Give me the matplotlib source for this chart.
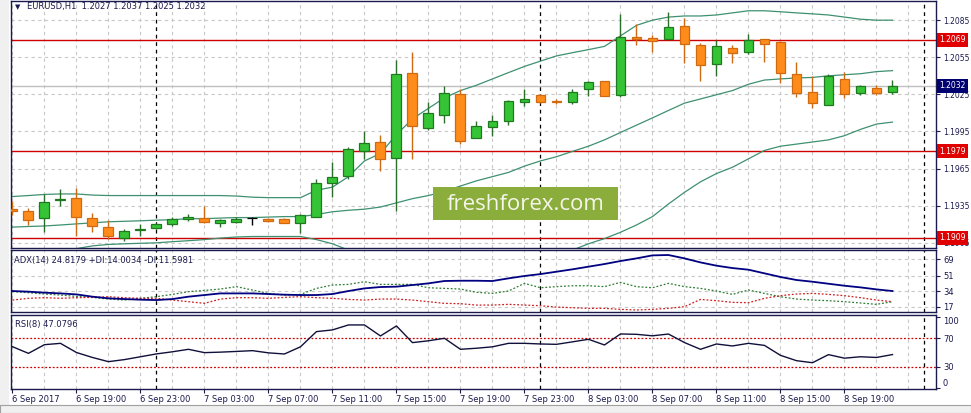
import numpy as np
import matplotlib
matplotlib.use("Agg")
import matplotlib.pyplot as plt
from matplotlib.patches import Rectangle
from matplotlib.transforms import blended_transform_factory

W, H = 971, 413

header = "EURUSD,H1  1.2027 1.2037 1.2025 1.2032"
adx_title = "ADX(14) 24.8179 +DI:14.0034 -DI:11.5981"
rsi_title = "RSI(8) 47.0796"

# hourly candles, 6 Sep 15:00 .. 8 Sep 22:00
opens = [1.19322, 1.19305, 1.19254, 1.19398, 1.19415, 1.19254, 1.19177, 1.19092, 1.19152, 1.19169,
         1.19203, 1.19245, 1.19254, 1.19211, 1.19220, 1.19254, 1.19245, 1.19245, 1.19211, 1.19262,
         1.19534, 1.19593, 1.19789, 1.19865, 1.19738, 1.20426, 1.19975, 1.20086, 1.20256, 1.19899,
         1.19984, 1.20035, 1.20188, 1.20247, 1.20196, 1.20188, 1.20290, 1.20358, 1.20247, 1.20714,
         1.20706, 1.20697, 1.20799, 1.20646, 1.20493, 1.20629, 1.20595, 1.20697, 1.20672, 1.20417,
         1.20273, 1.20162, 1.20375, 1.20264, 1.20298, 1.20270]
highs = [1.19390, 1.19330, 1.19441, 1.19483, 1.19492, 1.19288, 1.19237, 1.19160, 1.19203, 1.19211,
         1.19262, 1.19279, 1.19347, 1.19245, 1.19262, 1.19262, 1.19254, 1.19254, 1.19279, 1.19568,
         1.19704, 1.19823, 1.19950, 1.19925, 1.20527, 1.20595, 1.20188, 1.20315, 1.20290, 1.20035,
         1.20086, 1.20205, 1.20290, 1.20256, 1.20213, 1.20290, 1.20358, 1.20358, 1.20901, 1.20816,
         1.20731, 1.20918, 1.20867, 1.20663, 1.20689, 1.20646, 1.20740, 1.20697, 1.20680, 1.20510,
         1.20400, 1.20417, 1.20434, 1.20324, 1.20324, 1.20370]
lows = [1.19271, 1.19194, 1.19135, 1.19347, 1.19101, 1.19135, 1.19084, 1.19067, 1.19109, 1.19160,
        1.19186, 1.19228, 1.19211, 1.19177, 1.19211, 1.19194, 1.19220, 1.19211, 1.19126, 1.19262,
        1.19424, 1.19568, 1.19729, 1.19627, 1.19305, 1.19729, 1.19958, 1.20018, 1.19848, 1.19899,
        1.19916, 1.20001, 1.20154, 1.20179, 1.20171, 1.20171, 1.20239, 1.20239, 1.20230, 1.20646,
        1.20595, 1.20697, 1.20502, 1.20358, 1.20400, 1.20502, 1.20578, 1.20510, 1.20341, 1.20230,
        1.20137, 1.20162, 1.20222, 1.20247, 1.20247, 1.20250]
closes = [1.19305, 1.19237, 1.19381, 1.19407, 1.19262, 1.19186, 1.19101, 1.19143, 1.19160, 1.19203,
          1.19245, 1.19262, 1.19220, 1.19237, 1.19245, 1.19254, 1.19228, 1.19211, 1.19271, 1.19534,
          1.19585, 1.19806, 1.19857, 1.19729, 1.20417, 1.19992, 1.20103, 1.20264, 1.19874, 1.19992,
          1.20035, 1.20196, 1.20213, 1.20188, 1.20188, 1.20273, 1.20349, 1.20239, 1.20714, 1.20697,
          1.20680, 1.20791, 1.20655, 1.20485, 1.20638, 1.20587, 1.20689, 1.20655, 1.20426, 1.20264,
          1.20179, 1.20400, 1.20256, 1.20315, 1.20264, 1.20320]

bb_upper = [1.19424, 1.19432, 1.19441, 1.19445, 1.19445, 1.19436, 1.19432, 1.19432, 1.19432, 1.19432,
            1.19432, 1.19432, 1.19432, 1.19432, 1.19428, 1.19419, 1.19415, 1.19415, 1.19415, 1.19475,
            1.19500, 1.19585, 1.19712, 1.19772, 1.19925, 1.20052, 1.20137, 1.20222, 1.20281, 1.20324,
            1.20375, 1.20426, 1.20476, 1.20519, 1.20561, 1.20587, 1.20612, 1.20638, 1.20723, 1.20808,
            1.20850, 1.20875, 1.20884, 1.20884, 1.20892, 1.20909, 1.20926, 1.20926, 1.20918, 1.20909,
            1.20901, 1.20892, 1.20875, 1.20858, 1.20850, 1.20850]
bb_mid = [1.19177, 1.19182, 1.19186, 1.19194, 1.19203, 1.19211, 1.19220, 1.19224, 1.19228, 1.19233,
          1.19237, 1.19245, 1.19245, 1.19250, 1.19254, 1.19254, 1.19258, 1.19262, 1.19262, 1.19279,
          1.19301, 1.19313, 1.19322, 1.19339, 1.19373, 1.19407, 1.19432, 1.19466, 1.19509, 1.19551,
          1.19585, 1.19619, 1.19670, 1.19712, 1.19746, 1.19789, 1.19831, 1.19882, 1.19942, 1.20001,
          1.20060, 1.20120, 1.20179, 1.20213, 1.20247, 1.20281, 1.20332, 1.20366, 1.20375, 1.20383,
          1.20387, 1.20400, 1.20409, 1.20417, 1.20434, 1.20442]
bb_lower = [1.18940, 1.18948, 1.18965, 1.18982, 1.19003, 1.19025, 1.19037, 1.19042, 1.19046, 1.19050,
            1.19059, 1.19067, 1.19076, 1.19088, 1.19097, 1.19101, 1.19101, 1.19101, 1.19101, 1.19076,
            1.19042, 1.18991, 1.18948, 1.18914, 1.18838, 1.18761, 1.18728, 1.18711, 1.18736, 1.18778,
            1.18795, 1.18812, 1.18863, 1.18906, 1.18940, 1.18991, 1.19042, 1.19084, 1.19135, 1.19194,
            1.19262, 1.19364, 1.19458, 1.19543, 1.19610, 1.19661, 1.19729, 1.19797, 1.19831, 1.19848,
            1.19865, 1.19882, 1.19916, 1.19967, 1.20010, 1.20026]

adx = [34.0, 33.3, 32.2, 31.4, 30.3, 27.8, 26.0, 25.2, 24.5, 24.1,
       25.2, 27.8, 29.6, 31.4, 31.4, 31.4, 30.7, 30.0, 29.6, 29.6,
       30.7, 34.0, 36.9, 38.4, 38.8, 40.6, 42.4, 45.0, 45.3, 45.3,
       45.0, 47.9, 50.5, 52.6, 55.2, 57.8, 60.7, 63.6, 66.9, 69.8,
       73.1, 73.5, 69.8, 65.4, 61.8, 59.2, 57.4, 53.4, 49.4, 46.1,
       44.2, 42.0, 39.8, 38.0, 35.8, 34.0]
plus_di = [33.3, 32.2, 30.7, 29.6, 28.1, 27.0, 25.2, 24.1, 26.0, 27.8,
           30.3, 33.3, 34.7, 36.2, 38.8, 35.1, 31.4, 29.6, 30.3, 36.9,
           40.6, 41.3, 44.2, 41.3, 41.3, 41.3, 37.6, 36.9, 36.2, 32.6,
           31.4, 34.0, 42.4, 37.6, 38.8, 39.8, 39.8, 38.8, 43.5, 38.8,
           37.6, 42.4, 38.8, 36.9, 34.0, 30.3, 35.1, 31.4, 27.8, 25.2,
           24.1, 23.4, 22.3, 20.9, 19.4, 22.3]
minus_di = [24.1, 26.0, 26.7, 26.0, 26.7, 27.0, 27.8, 26.7, 26.0, 26.0,
            24.1, 22.3, 20.5, 25.2, 26.7, 26.7, 26.0, 27.0, 27.8, 26.7,
            26.0, 24.8, 24.1, 25.2, 25.2, 24.1, 22.3, 20.5, 20.1, 18.6,
            18.6, 19.4, 18.6, 17.9, 16.4, 15.7, 15.0, 15.0, 13.9, 13.2,
            13.9, 15.0, 16.8, 24.8, 23.4, 21.6, 21.2, 26.0, 28.9, 30.7,
            31.4, 30.3, 28.9, 26.7, 24.1, 22.3]
rsi = [58.2, 48.8, 61.0, 62.9, 50.0, 43.0, 37.1, 40.0, 44.0, 48.0,
       51.0, 54.5, 49.8, 50.5, 51.5, 52.6, 49.5, 47.9, 58.0, 79.4,
       81.8, 88.8, 88.8, 73.3, 87.4, 63.9, 66.5, 70.0, 54.5, 56.0,
       58.0, 62.9, 62.9, 62.0, 61.5, 65.0, 68.6, 60.6, 76.1, 75.6,
       73.5, 76.0, 64.0, 54.5, 62.0, 59.2, 62.9, 60.0, 46.0, 38.5,
       35.6, 47.0, 42.0, 44.0, 43.0, 47.1]

levels = [1.2069, 1.1979, 1.1909]
bid = 1.2032
price_ticks = [1.2085, 1.2055, 1.2025, 1.1995, 1.1965, 1.1935, 1.1905]
adx_ticks = [69, 51, 34, 17]
rsi_ticks = [100, 70, 30, 0]
rsi_levels = [70, 30]
day_starts = [9, 33, 57]
tick_idx = list(range(0, 56, 4))
tick_labels = ["6 Sep 2017", "6 Sep 19:00", "6 Sep 23:00", "7 Sep 03:00", "7 Sep 07:00",
               "7 Sep 11:00", "7 Sep 15:00", "7 Sep 19:00", "7 Sep 23:00", "8 Sep 03:00",
               "8 Sep 07:00", "8 Sep 11:00", "8 Sep 15:00", "8 Sep 19:00"]

FG = "#1a1a4e"
GRID = "#c8c8c8"


def rect(x0, y0, x1, y1):
    return [x0 / W, 1 - y1 / H, (x1 - x0) / W, (y1 - y0) / H]


plt.rcParams["font.family"] = "DejaVu Sans"
fig = plt.figure(figsize=(W / 100, H / 100), dpi=100)
fig.patch.set_facecolor("white")

ax = fig.add_axes(rect(11, 1, 936, 248))
ax_adx = fig.add_axes(rect(11, 250, 936, 312))
ax_rsi = fig.add_axes(rect(11, 315, 936, 389))

x = np.arange(len(closes))
for a in (ax, ax_adx, ax_rsi):
    a.set_xlim(-0.09, 57.72)
    for s in a.spines.values():
        s.set_color(FG)
        s.set_linewidth(1)
    a.set_xticks(tick_idx)
    a.set_xticks(np.arange(0, 58, 2), minor=True)
    a.grid(True, which="both", axis="x", color=GRID, ls=(0, (3, 3)), lw=0.8)
    a.tick_params(axis="x", which="minor", length=0)
    a.yaxis.tick_right()
    a.tick_params(axis="y", direction="out", length=3, labelsize=6, colors=FG, pad=2)
    for d in day_starts:
        a.axvline(d, color="black", ls=(0, (3, 3)), lw=0.9, zorder=2)
    a.set_axisbelow(True)

for a in (ax, ax_adx):
    a.tick_params(axis="x", which="major", length=0, labelbottom=False)

# --- price panel
ax.set_ylim(1.19008, 1.21005)
ax.set_yticks(price_ticks)
ax.set_yticklabels([f"{p:.4f}" for p in price_ticks])
ax.tick_params(axis="y", labelsize=5.5, pad=2)
ax.grid(True, axis="y", color=GRID, ls=(0, (3, 3)), lw=0.8)

ax.axhline(bid, color="#c0c0c0", lw=1, zorder=1)
for lv in levels:
    ax.axhline(lv, color="#cc0000", lw=1, zorder=2)

band_color = "#3f9070"
ax.plot(x, bb_upper, color=band_color, lw=0.9, zorder=2)
ax.plot(x, bb_mid, color=band_color, lw=0.9, zorder=2)
ax.plot(x, bb_lower, color=band_color, lw=0.9, zorder=2)

o = np.array(opens)
c = np.array(closes)
face, edge, wick = [], [], []
for oo, cc in zip(o, c):
    if cc > oo:
        face.append("#35c435"); edge.append("#1f7a1f"); wick.append("#2b6e2b")
    elif cc < oo:
        face.append("#ff8c1a"); edge.append("#cf6a12"); wick.append("#cf6a12")
    else:
        face.append("black"); edge.append("black"); wick.append("black")
ax.vlines(x, lows, highs, colors=wick, lw=1.0, zorder=3)
ax.bar(x, np.abs(c - o), bottom=np.minimum(o, c), width=0.62, color=face,
       edgecolor=edge, linewidth=0.9, zorder=4)

trans = blended_transform_factory(ax.transAxes, ax.transData)
for lv in levels:
    ax.text(1.004, lv, f"{lv:.4f}", transform=trans, ha="left", va="center", fontsize=5.5,
            color="white", clip_on=False, zorder=10,
            bbox=dict(boxstyle="square,pad=0.3", fc="#e00000", ec="none"))
ax.text(1.004, bid, f"{bid:.4f}", transform=trans, ha="left", va="center", fontsize=5.5,
        color="white", clip_on=False, zorder=10,
        bbox=dict(boxstyle="square,pad=0.3", fc="#000070", ec="none"))

# --- ADX panel
ax_adx.set_ylim(11.0, 79.0)
ax_adx.set_yticks(adx_ticks)
ax_adx.grid(True, axis="y", color=GRID, ls=(0, (3, 3)), lw=0.8)
ax_adx.plot(x, plus_di, color="#2e7d32", lw=0.9, ls=(0, (1.5, 1.5)), zorder=3)
ax_adx.plot(x, minus_di, color="#cc2020", lw=0.9, ls=(0, (1.5, 1.5)), zorder=3)
ax_adx.plot(x, adx, color="#000080", lw=1.3, zorder=4)

# --- RSI panel
ax_rsi.set_ylim(-1.4, 102.8)
ax_rsi.set_yticks(rsi_ticks)
for lv in rsi_levels:
    ax_rsi.axhline(lv, color="#cc0000", lw=0.9, ls=(0, (1.5, 1.5)), zorder=2)
ax_rsi.plot(x, rsi, color="#10103a", lw=1.0, zorder=4)
lbls = ax_rsi.get_yticklabels()
lbls[0].set_va("top")
lbls[-1].set_va("bottom")
ax_rsi.set_xticklabels(tick_labels)
ax_rsi.tick_params(axis="x", which="major", direction="out", length=3, labelsize=6,
                   colors=FG, pad=1)
for t in ax_rsi.get_xticklabels():
    t.set_ha("left")

# --- titles and frame decorations
fig.text(15 / W, 1 - 7 / H, "\u25bc", fontsize=5, color=FG, va="center", ha="left")
fig.text(27 / W, 1 - 7 / H, header, fontsize=6, color=FG, va="center", ha="left")
fig.text(14 / W, 1 - 260 / H, adx_title, fontsize=6, color=FG, va="center", ha="left")
fig.text(15 / W, 1 - 325 / H, rsi_title, fontsize=6, color=FG, va="center", ha="left")

fig.patches.append(Rectangle((0, 0), 9 / W, 1, transform=fig.transFigure,
                             fc="#f0f0f0", ec="none", zorder=0))
fig.patches.append(Rectangle((0, 0), 1, 8 / H, transform=fig.transFigure,
                             fc="#f0f0f0", ec="#a0a0a0", lw=0.8, zorder=0))

# watermark
fig.patches.append(Rectangle((433 / W, 1 - 220 / H), 185 / W, 33 / H, transform=fig.transFigure,
                             fc="#8aad3c", ec="none", zorder=5))
fig.text(525.5 / W, 1 - 204 / H, "freshforex.com", fontsize=16, color="#f5f5eb",
         family="Open Sans", ha="center", va="center", zorder=6)

fig.savefig("out.png", dpi=100)
